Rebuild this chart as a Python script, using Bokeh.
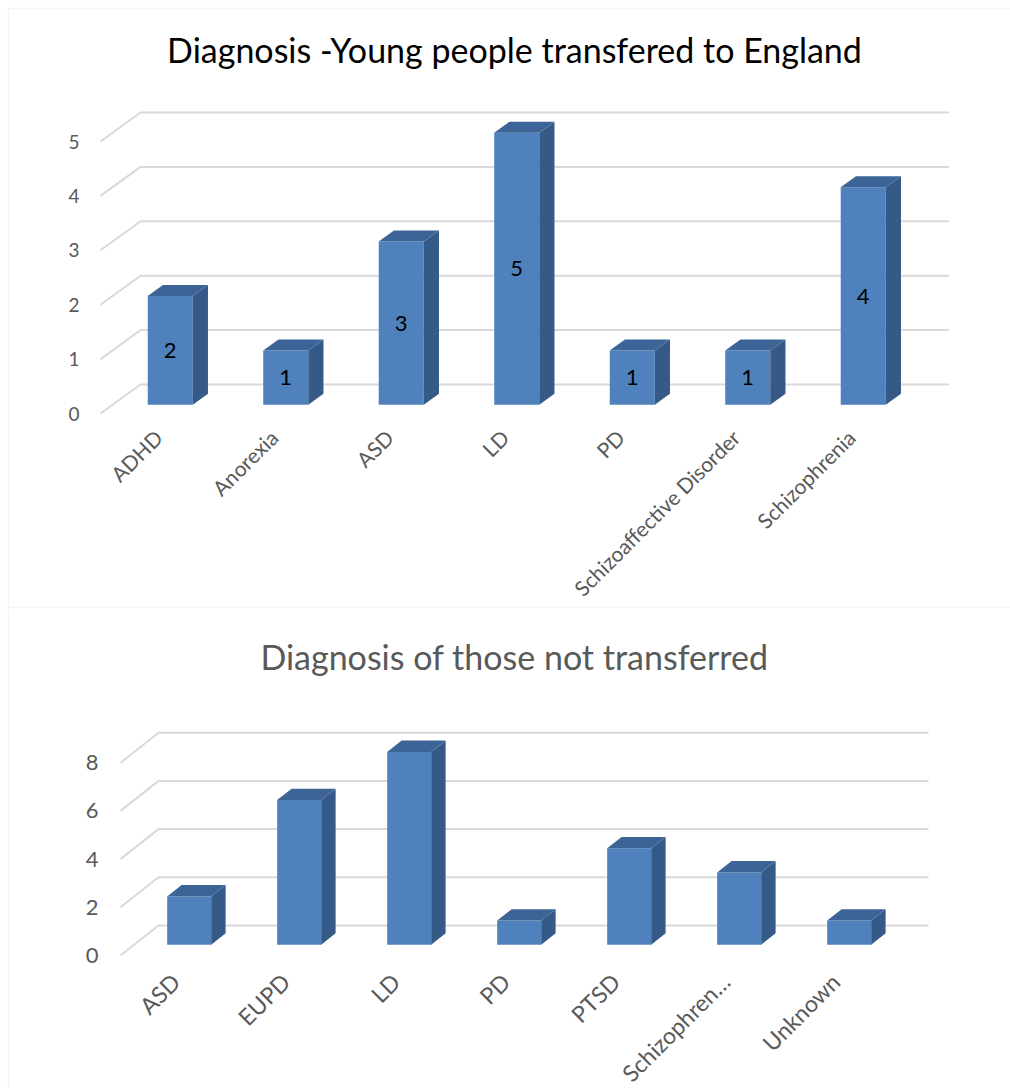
from math import pi

from bokeh.core.properties import value
from bokeh.embed import file_html
from bokeh.layouts import column
from bokeh.models import BoxAnnotation, FixedTicker, Label, Range1d
from bokeh.plotting import figure
from bokeh.resources import INLINE

FONT = "Lato"

# Young people transferred to England
top_categories = ["ADHD", "Anorexia", "ASD", "LD", "PD", "Schizoaffective Disorder", "Schizophrenia"]
top_counts = [2, 1, 3, 5, 1, 1, 4]
top_ticks = [0, 1, 2, 3, 4, 5]

# Those not transferred
bottom_categories = ["ASD", "EUPD", "LD", "PD", "PTSD", "Schizophren…", "Unknown"]
bottom_counts = [2, 6, 8, 1, 4, 3, 1]
bottom_ticks = [0, 2, 4, 6, 8]

FRONT = "#4F81BD"
SIDE = "#365A87"
LID = "#3D6496"
GRID = "#D9D9D9"
BORDER = "#D9D9D9"
AXIS_TEXT = "#595959"
WIDTH = 1010


def bar_chart_3d(categories, counts, ticks, *, height, page_top, floor_left, floor_y,
                 step, unit, depth, bar_width, bar_front, bar_depth, tick_size,
                 cat_size, cat_standoff, tick_standoff, title, title_color,
                 title_size, title_pos, boxes, show_values):
    """Column chart with an oblique 3-D look.  The plot frame fills the whole
    canvas; the floor's front edge sits at value 0 and category -0.5, the
    bars are set back by `bar_front` of the depth, back-wall gridlines behind."""
    n = len(categories)
    x0 = -0.5 - floor_left / step
    x1 = -0.5 + (WIDTH - floor_left) / step
    y0 = -(page_top + height - floor_y) / unit
    y1 = (floor_y - page_top) / unit
    dx = depth[0] / step
    dy = depth[1] / unit

    p = figure(width=WIDTH, height=height,
               x_range=Range1d(x0, x1), y_range=Range1d(y0, y1),
               min_border=0, min_border_left=0, min_border_right=0,
               min_border_top=0, min_border_bottom=0,
               output_backend="svg", toolbar_location=None, tools="")
    p.title.visible = False
    p.outline_line_color = None
    p.xgrid.visible = False
    p.ygrid.visible = False
    p.background_fill_color = "white"
    p.border_fill_color = "white"

    # screen units: frame == canvas, origin at its bottom-left
    def sx(x):
        return x

    def sy(y):
        return page_top + height - y

    # back wall gridlines with the short diagonal across the floor side
    xs, ys = [], []
    for k in ticks:
        xs.append([-0.5, -0.5 + dx, n - 0.5 + dx])
        ys.append([k, k + dy, k + dy])
    p.multi_line(xs, ys, line_color=GRID, line_width=2)

    xpos = list(range(n))
    f = bar_front
    b = bar_depth
    lefts = [i - bar_width / 2 + f * dx for i in xpos]
    rights = [i + bar_width / 2 + f * dx for i in xpos]
    base = f * dy
    tops = [v + f * dy for v in counts]

    p.quad(left=lefts, right=rights, bottom=base, top=tops,
           fill_color=FRONT, line_color=None)
    side_x = [[r, r + b * dx, r + b * dx, r] for r in rights]
    side_y = [[base, base + b * dy, t + b * dy, t] for t in tops]
    p.patches(side_x, side_y, fill_color=SIDE, line_color=None)
    lid_x = [[l, l + b * dx, r + b * dx, r] for l, r in zip(lefts, rights)]
    lid_y = [[t, t + b * dy, t + b * dy, t] for t in tops]
    p.patches(lid_x, lid_y, fill_color=LID, line_color=None)

    if show_values:
        p.text(x=[i + f * dx for i in xpos], y=[base + v / 2 for v in counts],
               text=[str(v) for v in counts], text_align="center",
               text_baseline="middle", text_font=value(FONT),
               text_font_size="22px", text_color="black")

    # axes pinned to the floor's front edge, inside the frame
    xa = p.xaxis[0]
    xa.fixed_location = 0
    xa.ticker = FixedTicker(ticks=xpos)
    xa.major_label_overrides = {i: c for i, c in enumerate(categories)}
    xa.major_label_orientation = pi / 4
    xa.axis_line_color = None
    xa.major_tick_line_color = None
    xa.minor_tick_line_color = None
    xa.major_tick_out = 0
    xa.major_tick_in = 0
    xa.major_label_standoff = cat_standoff
    xa.major_label_text_font = FONT
    xa.major_label_text_font_size = f"{cat_size}px"
    xa.major_label_text_color = AXIS_TEXT

    ya = p.yaxis[0]
    ya.fixed_location = -0.5
    ya.ticker = FixedTicker(ticks=ticks)
    ya.axis_line_color = None
    ya.major_tick_line_color = None
    ya.minor_tick_line_color = None
    ya.major_tick_out = 0
    ya.major_tick_in = 0
    ya.major_label_standoff = tick_standoff
    ya.major_label_text_font = FONT
    ya.major_label_text_font_size = f"{tick_size}px"
    ya.major_label_text_color = AXIS_TEXT

    p.add_layout(Label(x=sx(title_pos[0]), y=sy(title_pos[1]), x_units="screen",
                       y_units="screen", text=title, text_align="center",
                       text_baseline="alphabetic", text_font=FONT,
                       text_font_size=f"{title_size}px", text_color=title_color))

    # chart-area border
    for (bx0, by0, bx1, by1) in boxes:
        p.add_layout(BoxAnnotation(left=sx(bx0), right=sx(bx1), top=sy(by0),
                                   bottom=sy(by1), left_units="screen",
                                   right_units="screen", top_units="screen",
                                   bottom_units="screen", fill_alpha=0,
                                   line_color=BORDER, line_width=1.5))
    return p


TOP_H = 608
BOTTOM_H = 1088 - TOP_H

p_top = bar_chart_3d(
    top_categories, top_counts, top_ticks,
    height=TOP_H, page_top=0, floor_left=100, floor_y=413,
    step=115.5, unit=54.4, depth=(40, 29), bar_width=0.39,
    bar_front=0.3, bar_depth=0.38,
    tick_size=19, cat_size=21, cat_standoff=20, tick_standoff=21,
    title="Diagnosis -Young people transfered to England", title_color="black",
    title_size=34, title_pos=(514, 49),
    boxes=[(8, 8, 1040, 607)],
    show_values=True,
)

p_bottom = bar_chart_3d(
    bottom_categories, bottom_counts, bottom_ticks,
    height=BOTTOM_H, page_top=TOP_H, floor_left=120, floor_y=955,
    step=110, unit=24.1, depth=(38, 30), bar_width=0.40,
    bar_front=0.36, bar_depth=0.38,
    tick_size=22, cat_size=23, cat_standoff=22, tick_standoff=22,
    title="Diagnosis of those not transferred", title_color=AXIS_TEXT,
    title_size=34, title_pos=(514, 656),
    boxes=[(8, 560, 1040, 1200)],
    show_values=False,
)

layout = column(p_top, p_bottom, spacing=0)
open("out.html", "w").write(file_html(layout, INLINE))
